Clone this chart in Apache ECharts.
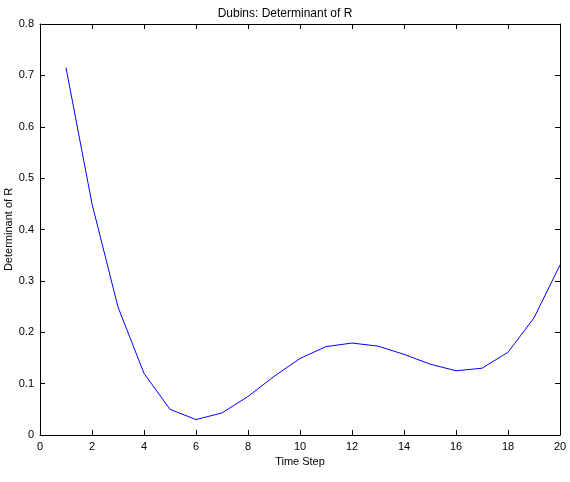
<!DOCTYPE html>
<html>
<head>
<meta charset="utf-8">
<script src="https://cdn.jsdelivr.net/npm/echarts@6/dist/echarts.min.js"></script>
<style>
  html, body { margin: 0; padding: 0; background: #fff; }
  #chart { width: 570px; height: 482px; }
</style>
</head>
<body>
<div id="chart"></div>
<script>
  const timeSteps = [1, 2, 3, 4, 5, 6, 7, 8, 9, 10, 11, 12, 13, 14, 15, 16, 17, 18, 19, 20];
  const detR = [0.715, 0.45, 0.249, 0.120, 0.050, 0.030, 0.043, 0.075, 0.114, 0.149,
    0.172, 0.179, 0.173, 0.157, 0.138, 0.125, 0.130, 0.161, 0.228, 0.331];

  const font = 'Liberation Sans, Arial, sans-serif';
  const chart = echarts.init(document.getElementById('chart'));

  const baseAxis = {
    axisLine: { show: true, onZero: false, lineStyle: { color: '#000', width: 1 } },
    axisTick: { show: true, inside: true, length: 5, lineStyle: { color: '#000' } },
    splitLine: { show: false },
  };

  const mirror = (axis, pos) => Object.assign({}, axis, {
    position: pos,
    name: '',
    axisLabel: { show: false },
  });

  const xAxis = Object.assign({}, baseAxis, {
    type: 'value', min: 0, max: 20, interval: 2,
    name: 'Time Step', nameLocation: 'middle', nameGap: 20,
    nameTextStyle: { color: '#000', fontFamily: font, fontSize: 11 },
    axisLabel: { color: '#000', fontFamily: font, fontSize: 11, margin: 6 },
  });

  const yAxis = Object.assign({}, baseAxis, {
    type: 'value', min: 0, max: 0.8, interval: 0.1,
    name: 'Determinant of R', nameLocation: 'middle', nameGap: 26, nameMoveOverlap: false,
    nameTextStyle: { color: '#000', fontFamily: font, fontSize: 11 },
    axisLabel: {
      color: '#000', fontFamily: font, fontSize: 11, margin: 6,
      formatter: (v) => (v === 0 ? '0' : v.toFixed(1)),
    },
  });

  chart.setOption({
    animation: false,
    title: {
      text: 'Dubins: Determinant of R',
      left: 'center', top: 3,
      textStyle: { color: '#000', fontFamily: font, fontSize: 12, fontWeight: 'normal' },
    },
    grid: { left: 40, right: 10, top: 24, bottom: 47, containLabel: false, outerBoundsMode: 'none' },
    xAxis: [Object.assign({ position: 'bottom' }, xAxis), mirror(xAxis, 'top')],
    yAxis: [Object.assign({ position: 'left' }, yAxis), mirror(yAxis, 'right')],
    series: [{
      type: 'line',
      data: timeSteps.map((t, i) => [t, detR[i]]),
      showSymbol: false,
      lineStyle: { color: '#0000ff', width: 1 },
      itemStyle: { color: '#0000ff' },
    }],
  });
</script>
</body>
</html>
